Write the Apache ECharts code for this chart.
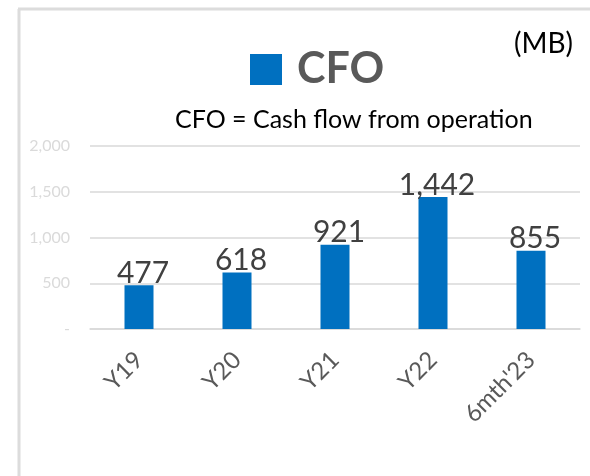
<!DOCTYPE html>
<html>
<head>
<meta charset="utf-8">
<script src="https://cdn.jsdelivr.net/npm/echarts@6/dist/echarts.min.js"></script>
<style>
  html, body { margin: 0; padding: 0; background: #fff; }
  #cfo { width: 590px; height: 476px; }
</style>
</head>
<body>
<div id="cfo"></div>
<script>
var categories = ['Y19', 'Y20', 'Y21', 'Y22', "6mth'23"];
var cfoValues = [477, 618, 921, 1442, 855];
var yTicks = [0, 500, 1000, 1500, 2000];

(function(){
  var myChart = echarts.init(document.getElementById('cfo'));
  var font = 'Lato';

  var option = {
    backgroundColor: '#fff',
    textStyle: { fontFamily: font },
    title: [
      {
        text: 'CFO = Cash flow from operation',
        left: 170,
        top: 102,
        textStyle: { fontSize: 25, fontWeight: 'normal', color: '#000', fontFamily: font }
      },
      {
        text: '(MB)',
        left: 509,
        top: 25,
        textStyle: { fontSize: 28, fontWeight: 'normal', color: '#000', fontFamily: font }
      }
    ],
    legend: {
      data: ['CFO'],
      left: 250,
      top: 48,
      padding: 0,
      icon: 'rect',
      itemWidth: 32,
      itemHeight: 31,
      textStyle: { fontSize: 43, fontWeight: 'bold', color: '#595959', fontFamily: font, padding: [0, 0, 0, 10] }
    },
    graphic: [
      { type: 'line', shape: { x1: 19, y1: 9, x2: 19, y2: 476 }, style: { stroke: '#dcdcdc', lineWidth: 3 } },
      { type: 'line', shape: { x1: 18, y1: 9, x2: 590, y2: 9 }, style: { stroke: '#dcdcdc', lineWidth: 3 } }
    ],
    grid: {
      left: 90,
      right: 10,
      top: 146,
      bottom: 147
    },
    xAxis: {
      type: 'category',
      data: categories,
      axisTick: { show: false },
      axisLine: { lineStyle: { color: '#d9d9d9', width: 1.5 } },
      axisLabel: { rotate: 45, color: '#595959', fontSize: 24, margin: 27, fontFamily: font }
    },
    yAxis: {
      type: 'value',
      min: yTicks[0],
      max: yTicks[yTicks.length - 1],
      interval: 500,
      axisLine: { show: false },
      axisTick: { show: false },
      splitLine: { lineStyle: { color: '#d9d9d9', width: 1.5 } },
      axisLabel: {
        color: '#dadada',
        fontSize: 16,
        margin: 20,
        fontFamily: font,
        formatter: function (v) { return v === 0 ? '-' : v.toLocaleString('en-US'); }
      }
    },
    series: [
      {
        name: 'CFO',
        type: 'bar',
        data: cfoValues,
        barWidth: 29,
        itemStyle: { color: '#0070C0' },
        label: {
          show: true,
          position: 'top',
          distance: -3,
          offset: [4, 0],
          color: '#404040',
          fontSize: 30,
          fontFamily: font,
          formatter: function (p) { return p.value.toLocaleString('en-US'); }
        }
      }
    ]
  };

  myChart.setOption(option);
})();
</script>
</body>
</html>
